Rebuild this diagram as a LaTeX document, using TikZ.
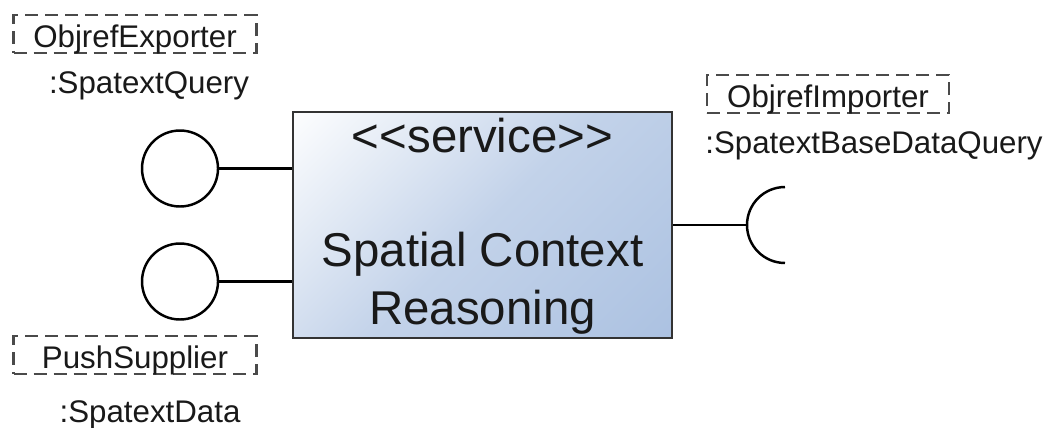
\documentclass[tikz,border=0pt]{standalone}
\usepackage{fontspec}
\setmainfont{Liberation Sans}
\usepackage{tikz}
\usetikzlibrary{positioning}
\definecolor{cborde}{HTML}{333333}
\definecolor{cazulsvc}{HTML}{ABC1E1}
\definecolor{cguion}{HTML}{4A4A4A}
\pgfdeclareverticalshading{gradsvc}{100bp}{color(0bp)=(cazulsvc); color(25bp)=(cazulsvc);
  color(50bp)=(cazulsvc!72!white); color(75bp)=(white); color(100bp)=(white)}
\tikzset{
  servicio/.style={rectangle, draw=cborde, line width=1.2pt,
    path picture={\shade[shading=gradsvc,
        transform canvas={rotate around={45:(path picture bounding box.center)}}]
      ([shift={(-4.4cm,-4.4cm)}]path picture bounding box.center) rectangle
      ([shift={(4.4cm,4.4cm)}]path picture bounding box.center);},
    minimum width=7.58cm, minimum height=4.52cm, inner sep=0pt},
  interfaz/.style={circle, draw=black, line width=1.4pt, minimum size=1.52cm, inner sep=0pt},
  puerto/.style={rectangle, draw=cguion, line width=1.2pt, dash pattern=on 0.26cm off 0.14cm,
    text height=0.64cm, text depth=0.12cm, inner ysep=0pt, inner xsep=0pt,
    minimum width=4.86cm, font=\fontsize{17.8}{21}\selectfont, text=black!90},
  etq/.style={font=\fontsize{17.8}{21}\selectfont, text=black!90, inner sep=0pt},
  linea/.style={line width=1.4pt, draw=black},
}
\begin{document}
\begin{tikzpicture}[x=0.02cm, y=-0.02cm]
  \useasboundingbox (0,0) rectangle (1050,427);
  % componente central
  \node[servicio] (svc) at (482.5,225) {};
  \node[align=center, font=\fontsize{27}{32.6}\selectfont, text=black!90] (svctxt) at (482.5,226)
    {<{}<service>{}>\\[0pt] \\Spatial Context\\Reasoning};
  % interfaces provistas
  \node[interfaz] (pq) at (180,168.5) {};
  \node[interfaz] (pd) at (180,281.5) {};
  \draw[linea] (pq.east) -- (svc.west |- pq);
  \draw[linea] (pd.east) -- (svc.west |- pd);
  \node[puerto, anchor=base] (exp) at (135,47) {ObjrefExporter};
  \node[etq, anchor=base] (qry) at (149,93) {:SpatextQuery};
  \node[puerto, anchor=base] (sup) at (135,368) {PushSupplier};
  \node[etq, anchor=base] (dat) at (150,422) {:SpatextData};
  % interfaz requerida
  \coordinate (sock) at (747,225);
  \draw[linea] (svc.east |- sock) -- (sock);
  \draw[linea] (sock) ++(0.76cm,0.76cm) arc[start angle=90, end angle=270, radius=0.76cm];
  \node[puerto, anchor=base, minimum width=4.84cm] (imp) at (828,107) {ObjrefImporter};
  \node[etq, anchor=base] (bdq) at (874,153) {:SpatextBaseDataQuery};
\end{tikzpicture}
\end{document}
